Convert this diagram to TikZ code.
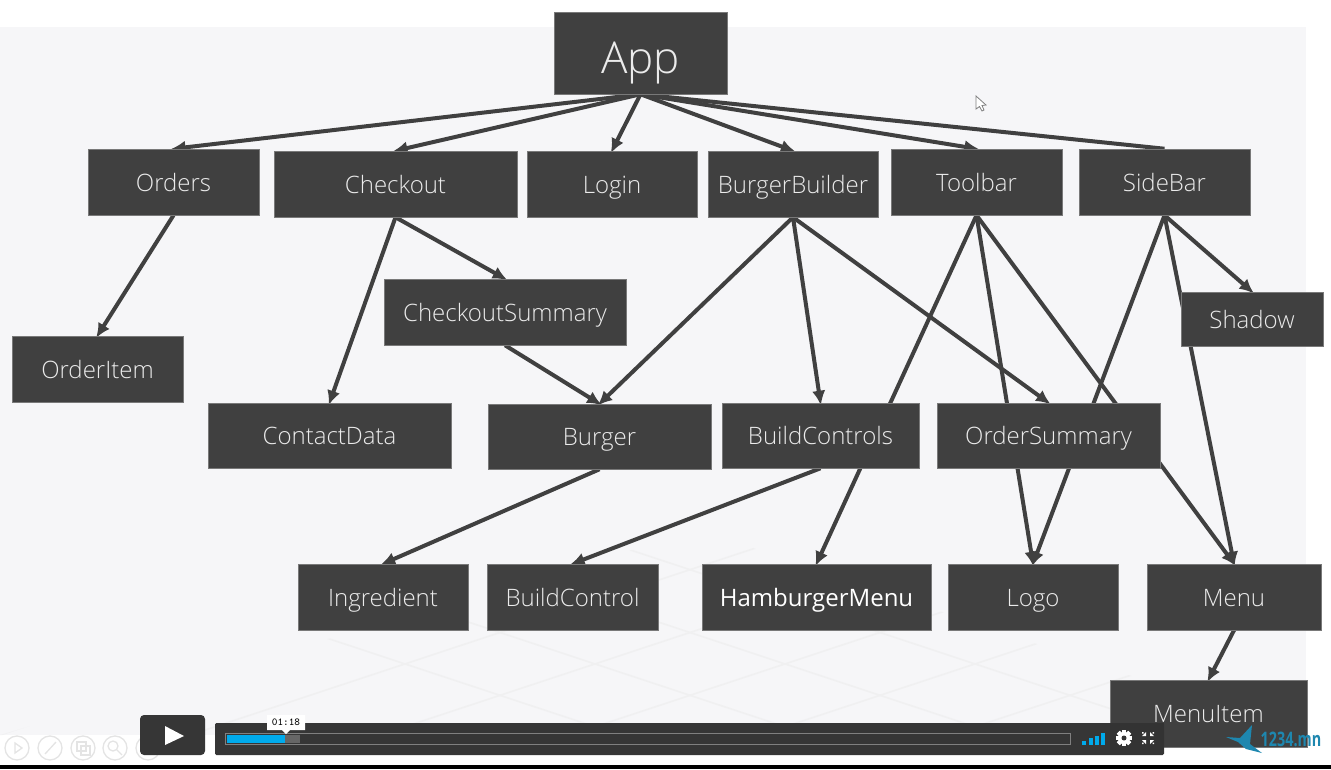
\documentclass[tikz,border=0pt]{standalone}
\usepackage{fontspec}
\usetikzlibrary{arrows.meta}
\setmainfont{Open Sans Light}
\newfontfamily\medfont{Open Sans}
\pgfdeclarelayer{panel}
\pgfdeclarelayer{edges}
\pgfdeclarelayer{hud}
\pgfsetlayers{panel,edges,main,hud}
\definecolor{boxgray}{RGB}{64,64,64}
\definecolor{panelgray}{RGB}{246,246,248}
\definecolor{gridgray}{RGB}{240,240,241}
\definecolor{iconring}{RGB}{228,228,228}
\definecolor{barblue}{RGB}{0,170,235}
\definecolor{bargray}{RGB}{54,54,54}
\definecolor{birdteal}{RGB}{30,135,175}
\tikzset{
    every picture/.style={line width=0.75pt},
    compbox/.style={fill=boxgray,draw=boxgray!70!white,line width=0.4pt,text=white!92!black,inner sep=0pt,text height=16.5pt,text depth=3pt,font=\fontsize{18}{20}\selectfont},
    compedge/.style={draw=boxgray,line width=3pt,shorten >=-2pt,-{Latex[length=11pt,width=10pt]}},
    compline/.style={draw=boxgray,line width=3pt},
    gridline/.style={draw=gridgray,line width=1.2pt},
    iconline/.style={draw=iconring,line width=1pt},
}
\newcommand{\compnode}[6]{\node[compbox,minimum width=#4*0.75pt,minimum height=#5*0.75pt] (#1) at (#2,#3) {#6};}

\begin{document}
\begin{tikzpicture}[x=0.75pt,y=0.75pt,yscale=-1,xscale=1]
        \useasboundingbox (0,0) rectangle (1331,769);

        % boxes
        \node[compbox,minimum width=129.5pt,minimum height=61.5pt,text height=34pt,text depth=4pt,font=\fontsize{33}{36}\selectfont] (app) at (640.5,53) {App};
        \compnode{orders}{173.5}{182}{171}{66}{Orders}
        \compnode{checkout}{395.5}{184}{243}{66}{Checkout}
        \compnode{login}{612}{184}{170}{66}{Login}
        \compnode{burgerbuilder}{793}{184}{170}{66}{BurgerBuilder}
        \compnode{toolbar}{976.5}{182}{171}{66}{Toolbar}
        \compnode{sidebar}{1164.5}{182}{171}{66}{SideBar}
        \compnode{orderitem}{97.5}{369}{171}{66}{OrderItem}
        \compnode{checkoutsummary}{505}{312}{242}{66}{CheckoutSummary}
        \compnode{shadow}{1252}{319}{142}{54}{Shadow}
        \compnode{contactdata}{329.5}{435.5}{243}{65}{ContactData}
        \compnode{burger}{599.5}{436.5}{223}{65}{Burger}
        \compnode{buildcontrols}{820.5}{435.5}{197}{65}{BuildControls}
        \compnode{ordersummary}{1048.5}{435.5}{223}{65}{OrderSummary}
        \compnode{ingredient}{383}{597}{170}{66}{Ingredient}
        \compnode{buildcontrol}{572.5}{597}{171}{66}{BuildControl}
        \compnode{hamburgermenu}{816.5}{597}{229}{66}{\medfont\color{white}HamburgerMenu}
        \compnode{logo}{1033}{597}{170}{66}{Logo}
        \compnode{menu}{1234}{597}{174}{66}{Menu}
        \compnode{menuitem}{1208.5}{713.5}{197}{67}{MenuItem}

        \begin{pgfonlayer}{panel}
            \fill[panelgray] (0,27) rectangle (1306,735);
            \fill[black] (0,765) rectangle (1331,769);
            % floor grid
            \begin{scope}
                \clip (0,735) -- (700,530) -- (1306,735) -- cycle;
                \foreach \gridx in {0,190,380,570,760,950,1140}
                    \draw[gridline] (\gridx,735) -- (\gridx+620,530);
                \foreach \gridx in {100,290,480,670,860,1050}
                    \draw[gridline] (\gridx-100,530) -- (\gridx+520,735);
            \end{scope}
            % faint round tool icons
            \foreach \iconx in {17,50,83,115,148}
                \draw[iconline] (\iconx,748) circle (12);
            \draw[iconline] (15,743) -- (22,748) -- (15,753) -- cycle;
            \draw[iconline] (45,754) -- (56,742);
            \draw[iconline] (77,742) rectangle (86,751) (81,746) rectangle (90,755);
            \draw[iconline] (113,746) circle (5) (117,750) -- (122,755);
        \end{pgfonlayer}

        % connectors
        \begin{pgfonlayer}{edges}
            \draw[compedge] (app.south) -- (orders.north);
            \draw[compedge] (app.south) -- (checkout.north);
            \draw[compedge] (app.south) -- (login.north);
            \draw[compedge] (app.south) -- (burgerbuilder.north);
            \draw[compedge] (app.south) -- (toolbar.north);
            \draw[compline] (app.south) -- (sidebar.north);
            \draw[compedge] (orders.south) -- (orderitem.north);
            \draw[compedge] (checkout.south) -- (contactdata.north);
            \draw[compedge] (checkout.south) -- (checkoutsummary.north);
            \draw[compedge] (checkoutsummary.south) -- (burger.north);
            \draw[compedge] (burgerbuilder.south) -- (burger.north);
            \draw[compedge] (burgerbuilder.south) -- (buildcontrols.north);
            \draw[compedge] (burgerbuilder.south) -- (ordersummary.north);
            \draw[compedge] (toolbar.south) -- (hamburgermenu.north);
            \draw[compedge] (toolbar.south) -- (logo.north);
            \draw[compedge] (toolbar.south) -- (menu.north);
            \draw[compedge] (sidebar.south) -- (shadow.north);
            \draw[compedge] (sidebar.south) -- (logo.north);
            \draw[compedge] (sidebar.south) -- (menu.north);
            \draw[compedge] (burger.south) -- (ingredient.north);
            \draw[compedge] (buildcontrols.south) -- (buildcontrol.north);
            \draw[compedge] (menu.south) -- (menuitem.north);
        \end{pgfonlayer}

        % mouse pointer
        \draw[fill=white,draw=gray,line width=0.6pt] (976,96) -- (976,109) -- (979.5,106.5) -- (982,111) -- (984,110) -- (982,105.5) -- (986,105) -- cycle;

        % player bar
        \begin{pgfonlayer}{hud}
            \fill[bargray,rounded corners=3] (140,715) rectangle (205,755);
            \fill[white] (165,726) -- (184,736) -- (165,745) -- cycle;
            \fill[bargray,rounded corners=1] (215,723) rectangle (1164,755);
            \fill[black!80] (1110,723) rectangle (1164,750);
            \draw[gray] (225.5,733.5) rectangle (1070.5,744.5);
            \fill[gray!80!black] (285,735) rectangle (300,743);
            \fill[barblue] (227,735) rectangle (285,743);
            \fill[white] (267,715) rectangle (305,730) (282,730) -- (290,730) -- (286,734) -- cycle;
            \node[inner sep=0pt,font=\ttfamily\fontsize{8}{9}\selectfont] (timestamp) at (286,722.5) {01:18};
            \foreach \barx/\bartop in {1082/741,1089/738,1095/736,1101/733}
                \fill[barblue] (\barx,745) rectangle (\barx+3.5,\bartop);
            % gear
            \foreach \gearangle in {0,45,...,315}
                \fill[white,rotate around={\gearangle:(1124,738)}] (1122,730) rectangle (1126,746);
            \fill[white] (1124,738) circle (6);
            \fill[black!80] (1124,738) circle (2.5);
            % fullscreen
            \foreach \fsx/\fsy in {-1/-1,1/-1,-1/1,1/1}
                \fill[white] (1148+\fsx*2,738+\fsy*2) -- (1148+\fsx*6,738+\fsy*2) -- (1148+\fsx*2,738+\fsy*6) -- cycle
                    (1148+\fsx*4.5,738+\fsy*4.5) rectangle (1148+\fsx*6,738+\fsy*6);
            % bird and site mark
            \fill[birdteal] (1226,737) -- (1240,738) -- (1252,725) -- (1250,744) -- (1262,753) -- (1246,749) -- (1238,742) -- cycle;
            \node[inner sep=0pt,text=birdteal,xscale=0.72,font=\medfont\bfseries\fontsize{15}{16}\selectfont] (sitemark) at (1291,739) {1234.mn};
        \end{pgfonlayer}
\end{tikzpicture}
\end{document}
